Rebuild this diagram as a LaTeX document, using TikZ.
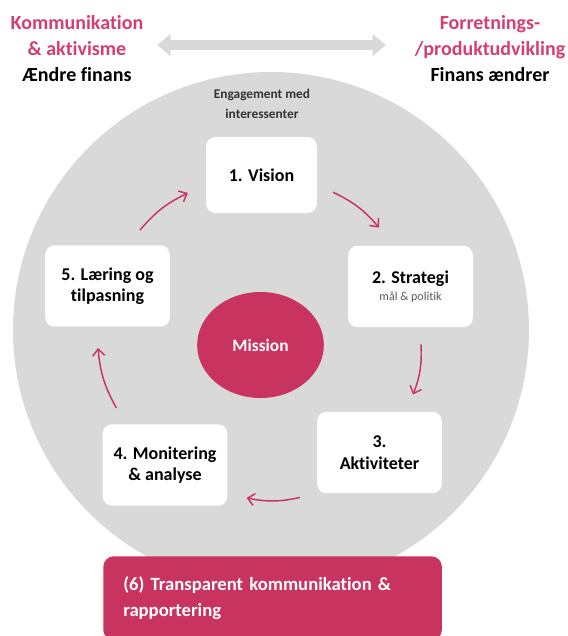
\documentclass[tikz,border=0pt]{standalone}
\usepackage{fontspec}
\setmainfont[Ligatures=NoCommon]{Carlito}
\usetikzlibrary{arrows.meta,shapes.geometric}

\definecolor{rosa}{HTML}{C8345F}
\definecolor{lysrosa}{HTML}{D63E6F}
\definecolor{lysgraa}{HTML}{D9D9D9}

\tikzstyle{stepbox} = [fill=white, rounded corners=7pt, minimum width=93.5pt, minimum height=61pt, align=center, inner sep=2pt, font=\bfseries\fontsize{13.5}{16}\selectfont]
\tikzstyle{toptext} = [align=center, inner sep=2pt, font=\bfseries\fontsize{15}{19.5}\selectfont]
\tikzstyle{flow} = [draw=rosa, line width=1.1pt, -{Straight Barb[length=5pt,width=9pt]}, bend left=12]
\tikzstyle{twoway} = [draw=lysgraa, line width=8pt, {Triangle[length=10pt,width=16pt]}-{Triangle[length=10pt,width=16pt]}]

\begin{document}
\begin{tikzpicture}[x=0.75pt,y=-0.75pt]
  \useasboundingbox (0,0) rectangle (568,636);

%Background
	\fill[lysgraa] (271,330) circle (193.5pt);

%Nodes
	\node[toptext] (venstre) at (77,49) {\textcolor{lysrosa}{Kommunikation}\\ \textcolor{lysrosa}{\& aktivisme}\\ Ændre finans};
	\node[toptext] (hoejre) at (490,49) {\textcolor{lysrosa}{Forretnings-}\\ \textcolor{lysrosa}{/produktudvikling}\\ Finans ændrer};
	\node[align=center, inner sep=1pt, text=black!80, font=\bfseries\fontsize{10}{15.5}\selectfont] (engagement) at (262,104) {Engagement med\\ interessenter};

	\node[stepbox, minimum width=83pt, minimum height=57pt] (vision) at (261.5,175) {1. Vision};
	\node[stepbox] (strategi) at (410.5,286.5) {2. Strategi\\[-3pt] {\mdseries\fontsize{9}{10}\selectfont\color{black!65} mål \& politik}};
	\node[stepbox] (aktiviteter) at (379.5,452.5) {3.\\ Aktiviteter};
	\node[stepbox] (monitering) at (165,465) {4. Monitering\\ \& analyse};
	\node[stepbox] (laering) at (107.5,286) {5. Læring og\\ tilpasning};

	\node[ellipse, fill=rosa, text=white, minimum width=95pt, minimum height=79.5pt, font=\bfseries\fontsize{13}{15}\selectfont] (mission) at (260.5,345) {Mission};

	\node[fill=rosa, rounded corners=8pt, anchor=north west, text width=224pt, align=left, inner xsep=15pt, inner ysep=0pt, minimum height=63pt, text=white, font=\bfseries\fontsize{14}{20}\selectfont] (rapport) at (103,556) {(6) Transparent kommunikation \&\\ rapportering};

%Connections
	\draw[twoway] ([shift={(11,-4)}]venstre.east) -- ([shift={(-26,-4)}]hoejre.west);

	\draw[flow] ([shift={(16,-21)}]vision.south east) to ([shift={(-31.5,-18)}]strategi.north);
	\draw[flow] ([shift={(10.5,17)}]strategi.south) to ([shift={(33.5,-17)}]aktiviteter.north);
	\draw[flow] ([shift={(-17,4)}]aktiviteter.south west) to ([shift={(19,-8)}]monitering.south east);
	\draw[flow] ([shift={(14,-16)}]monitering.north west) to ([shift={(-9.5,21)}]laering.south);
	\draw[flow] ([shift={(32.5,-15)}]laering.north) to ([shift={(-18,18)}]vision.west);

\end{tikzpicture}
\end{document}
